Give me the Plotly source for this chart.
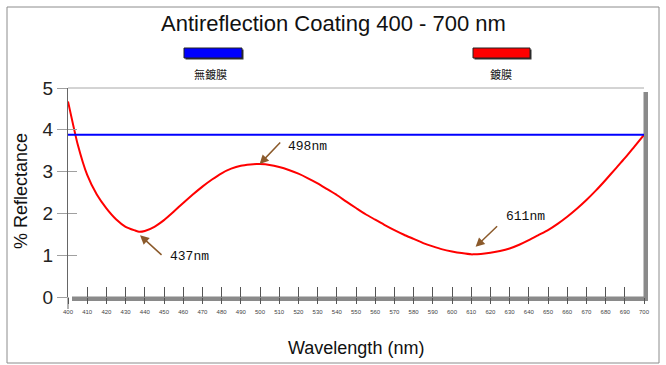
import plotly.graph_objects as go

# ---------------- data ----------------
title_text = "Antireflection Coating 400 - 700 nm"
x_title = "Wavelength (nm)"
y_title = "% Reflectance"
legend_names = ["無鍍膜", "鍍膜"]

wavelength = [400, 405, 410, 415, 420, 425, 430, 435, 437, 440, 445, 450, 455, 460,
              465, 470, 475, 480, 485, 490, 495, 498, 500, 505, 510, 515, 520, 525,
              530, 535, 540, 545, 550, 555, 560, 565, 570, 575, 580, 585, 590, 595,
              600, 605, 610, 611, 615, 620, 625, 630, 635, 640, 645, 650, 655, 660,
              665, 670, 675, 680, 685, 690, 695, 700]
coated = [4.68, 3.66, 2.92, 2.45, 2.12, 1.86, 1.68, 1.59, 1.56, 1.58, 1.68, 1.84, 2.04, 2.25,
          2.45, 2.64, 2.81, 2.96, 3.07, 3.14, 3.17, 3.18, 3.18, 3.16, 3.11, 3.04, 2.95, 2.84,
          2.72, 2.58, 2.44, 2.28, 2.13, 1.98, 1.85, 1.72, 1.60, 1.49, 1.39, 1.29, 1.21, 1.14,
          1.09, 1.05, 1.02, 1.02, 1.03, 1.06, 1.10, 1.16, 1.25, 1.36, 1.48, 1.60, 1.75, 1.92,
          2.11, 2.32, 2.55, 2.80, 3.06, 3.32, 3.60, 3.88]

uncoated_nm = [400, 700]
uncoated = [3.88, 3.88]

x_ticks = list(range(400, 701, 10))
y_ticks = [0, 1, 2, 3, 4, 5]

peak_nm = [437, 498, 611]
peak_val = [1.56, 3.18, 1.02]
peak_labels = ["437nm", "498nm", "611nm"]

# ---------------- layout geometry ----------------
WIDTH, HEIGHT = 666, 365
L, R, T, B = 68, 22, 88, 68
PW = WIDTH - L - R
PH = HEIGHT - T - B


def px(x):
    return (x - L) / PW


def py(y):
    return (HEIGHT - B - y) / PH


RED = "#FF0000"
BLUE = "#0000FF"
BROWN = "#8B5A2B"
SHADOW = "#8a8a8a"

fig = go.Figure()

fig.add_trace(go.Scatter(x=wavelength, y=coated, mode="lines",
                         line=dict(color=RED, width=2, shape="spline", smoothing=0.5),
                         name=legend_names[1], hoverinfo="skip"))
fig.add_trace(go.Scatter(x=uncoated_nm, y=uncoated, mode="lines",
                         line=dict(color=BLUE, width=2),
                         name=legend_names[0], xaxis="x2", yaxis="y2", hoverinfo="skip"))

xr = [x_ticks[0], x_ticks[-1]]
yr = [y_ticks[0], y_ticks[-1]]

common_x = dict(range=xr, tickmode="array", tickvals=x_ticks, showgrid=False, zeroline=False)
common_y = dict(range=yr, tickmode="array", tickvals=y_ticks, showgrid=False, zeroline=False)

fig.update_layout(
    width=WIDTH, height=HEIGHT,
    margin=dict(l=L, r=R, t=T, b=B),
    paper_bgcolor="white", plot_bgcolor="rgba(0,0,0,0)",
    showlegend=False,
    xaxis=dict(**common_x, ticks="outside", ticklen=6, tickcolor="#555", tickwidth=1,
               showline=False, ticktext=[str(v) for v in x_ticks],
               tickfont=dict(family="Liberation Sans", size=6, color="#444"),
               ticklabelstandoff=3),
    xaxis2=dict(**common_x, overlaying="x", ticks="inside", ticklen=10, tickcolor="#555",
                tickwidth=1, showticklabels=False, showline=False, side="bottom"),
    yaxis=dict(**common_y, ticks="outside", ticklen=10, tickcolor="#a0a0a0", tickwidth=1,
               showline=True, linecolor="#666", linewidth=1,
               tickfont=dict(family="Liberation Sans", size=19, color="#222")),
    yaxis2=dict(**common_y, overlaying="y", ticks="inside", ticklen=9, tickcolor="#a0a0a0",
                tickwidth=1, showticklabels=False, showline=False, side="left"),
)

shapes = []
# outer frame
shapes.append(dict(type="rect", xref="paper", yref="paper", x0=px(7), x1=px(659),
                   y0=py(363), y1=py(7), line=dict(color="#8c8c8c", width=1), layer="below"))
# top line of plot box
shapes.append(dict(type="line", xref="paper", yref="paper", x0=0, x1=px(644), y0=1, y1=1,
                   line=dict(color="#a8a8a8", width=1), layer="below"))
# y axis extension below zero
shapes.append(dict(type="line", xref="paper", yref="paper", x0=0, x1=0, y0=py(309), y1=0,
                   line=dict(color="#666", width=1), layer="below"))
# shadow bars
shapes.append(dict(type="rect", xref="paper", yref="paper", x0=px(72), x1=px(648),
                   y0=py(301), y1=py(296.5), fillcolor=SHADOW, line=dict(width=0), layer="below"))
shapes.append(dict(type="rect", xref="paper", yref="paper", x0=px(643.5), x1=px(648),
                   y0=py(301), y1=py(92), fillcolor=SHADOW, line=dict(width=0), layer="below"))
# legend swatches
for (x0, x1), col in zip([(184, 242), (473, 530)], [BLUE, RED]):
    shapes.append(dict(type="rect", xref="paper", yref="paper", x0=px(x0 + 1.5), x1=px(x1 + 1.5),
                       y0=py(59.5), y1=py(49.5), fillcolor="#333", line=dict(width=0)))
    shapes.append(dict(type="rect", xref="paper", yref="paper", x0=px(x0), x1=px(x1),
                       y0=py(58), y1=py(48), fillcolor=col, line=dict(color="#222", width=1)))
fig.update_layout(shapes=shapes)

annotations = []
annotations.append(dict(text=title_text, xref="paper", yref="paper", x=px(333), y=py(23),
                        showarrow=False, xanchor="center", yanchor="middle",
                        font=dict(family="Liberation Sans", size=22, color="#111")))
annotations.append(dict(text=x_title, xref="paper", yref="paper", x=0.5, y=py(348),
                        showarrow=False, xanchor="center", yanchor="middle",
                        font=dict(family="Liberation Sans", size=18, color="#111")))
annotations.append(dict(text=y_title, xref="paper", yref="paper", x=px(21), y=py(191),
                        showarrow=False, xanchor="center", yanchor="middle", textangle=-90,
                        font=dict(family="Liberation Sans", size=18, color="#111")))
for name, cx in zip(legend_names, [210, 501]):
    annotations.append(dict(text=name, xref="paper", yref="paper", x=px(cx), y=py(74),
                            showarrow=False, xanchor="center", yanchor="middle",
                            font=dict(family="Noto Sans CJK TC", size=11, color="#111")))

# arrow offsets (pixels) and head shifts
arrow_ax = [23, 22, 23]
arrow_ay = [21, -23, -22]
head_shift = [(1, -3.5), (3.5, 0), (2.5, 7.5)]
text_shift = [(29, -25), (30, 18), (31, 38)]
for nm, val, lab, ax, ay, hs, ts in zip(peak_nm, peak_val, peak_labels, arrow_ax, arrow_ay,
                                       head_shift, text_shift):
    annotations.append(dict(x=nm, y=val, xref="x", yref="y", text="", showarrow=True,
                            ax=ax, ay=ay, arrowhead=2, arrowsize=1.2, arrowwidth=1.5,
                            arrowcolor=BROWN, xshift=hs[0], yshift=hs[1]))
    annotations.append(dict(x=nm, y=val, xref="x", yref="y", text=lab, showarrow=False,
                            xanchor="left", yanchor="middle", xshift=ts[0], yshift=ts[1],
                            font=dict(family="Liberation Mono", size=13, color="#111")))
fig.update_layout(annotations=annotations)

fig.write_html("out.html")
